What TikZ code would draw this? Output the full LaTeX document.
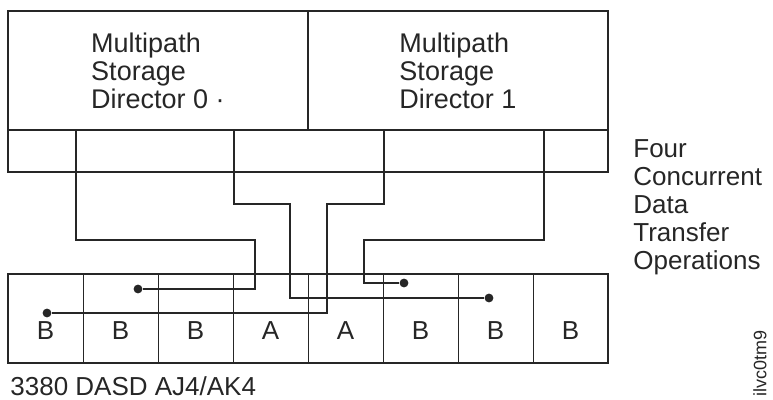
\documentclass[tikz,border=0pt]{standalone}
\usepackage{fontspec}
\setmainfont{Liberation Sans}
\usepackage{tikz}
\usetikzlibrary{positioning}
\definecolor{ink}{RGB}{38,38,38}
\tikzset{
    line cap=round,
    line join=round,
    director/.style={
        rectangle,
        draw=ink,
        line width=1pt,
        inner sep=0pt,
        outer sep=0pt,
        anchor=north west,
        minimum width=150pt,
        minimum height=59.5pt,
        align=left,
        text=ink,
        font=\fontsize{13.5}{14}\selectfont
    },
    port/.style={
        rectangle,
        draw=ink,
        line width=1pt,
        inner sep=0pt,
        outer sep=0pt,
        anchor=north west,
        minimum height=21pt
    },
    drive/.style={
        rectangle,
        draw=ink,
        line width=0.5pt,
        inner sep=0pt,
        outer sep=0pt,
        anchor=north west,
        minimum width=37.5pt,
        minimum height=44.5pt
    },
    frame/.style={
        draw=ink,
        line width=1pt
    },
    letter/.style={
        text=ink,
        inner sep=0pt,
        font=\fontsize{13}{14}\selectfont
    },
    link/.style={
        draw=ink,
        line width=1.1pt
    },
    dot/.style={
        circle,
        fill=ink,
        inner sep=0pt,
        minimum size=4.4pt
    },
    annot/.style={
        text=ink,
        inner sep=0pt,
        align=left,
        font=\fontsize{13}{14}\selectfont
    },
    idtag/.style={
        text=ink,
        inner sep=0pt,
        font=\fontsize{9}{10}\selectfont
    }
}

\begin{document}
\begin{tikzpicture}[x=0.5pt, y=-0.5pt]
    \useasboundingbox (0,0) rectangle (773,400);

    % Storage directors
    \node[director] (d0) at (8,11) {Multipath\\Storage\\Director 0 ·};
    \node[director] (d1) at (308,11) {Multipath\\Storage\\Director 1};

    % Ports below the directors
    \node[port, minimum width=34pt] (p1) at (8,130) {};
    \node[port, minimum width=79pt] (p2) at (76,130) {};
    \node[port, minimum width=75pt] (p3) at (234,130) {};
    \node[port, minimum width=80pt] (p4) at (384,130) {};
    \node[port, minimum width=32pt] (p5) at (544,130) {};

    % Drives
    \foreach \l [count=\i] in {B,B,B,A,A,B,B,B} {
        \node[drive] (dv\i) at ({8+75*(\i-1)},274) {};
        \node[letter] (lt\i) at ({45.5+75*(\i-1)},331) {\l};
    }
    \draw[frame] (dv1.north west) rectangle (dv8.south east);

    % End points of the transfers
    \node[dot] (t1) at (47,313) {};
    \node[dot] (t2) at (138,289) {};
    \node[dot] (t3) at (404,283) {};
    \node[dot] (t4) at (489,298) {};

    % Transfer paths
    \draw[link] (p1.south east) |- (255,240) |- (t2);
    \draw[link] (p2.south east) |- (290,204) |- (t4);
    \draw[link] (p3.south east) |- (327,204) |- (t1);
    \draw[link] (p4.south east) |- (364,240) |- (t3);

    % Labels
    \node[annot, anchor=north west] (ops) at (633,139) {Four\\Concurrent\\Data\\Transfer\\Operations};
    \node[annot, anchor=base west] (dasd) at (10,396) {3380 DASD AJ4/AK4};
    \node[idtag, rotate=90, anchor=east] (tag) at (760,330) {ilvc0tm9};

\end{tikzpicture}
\end{document}
